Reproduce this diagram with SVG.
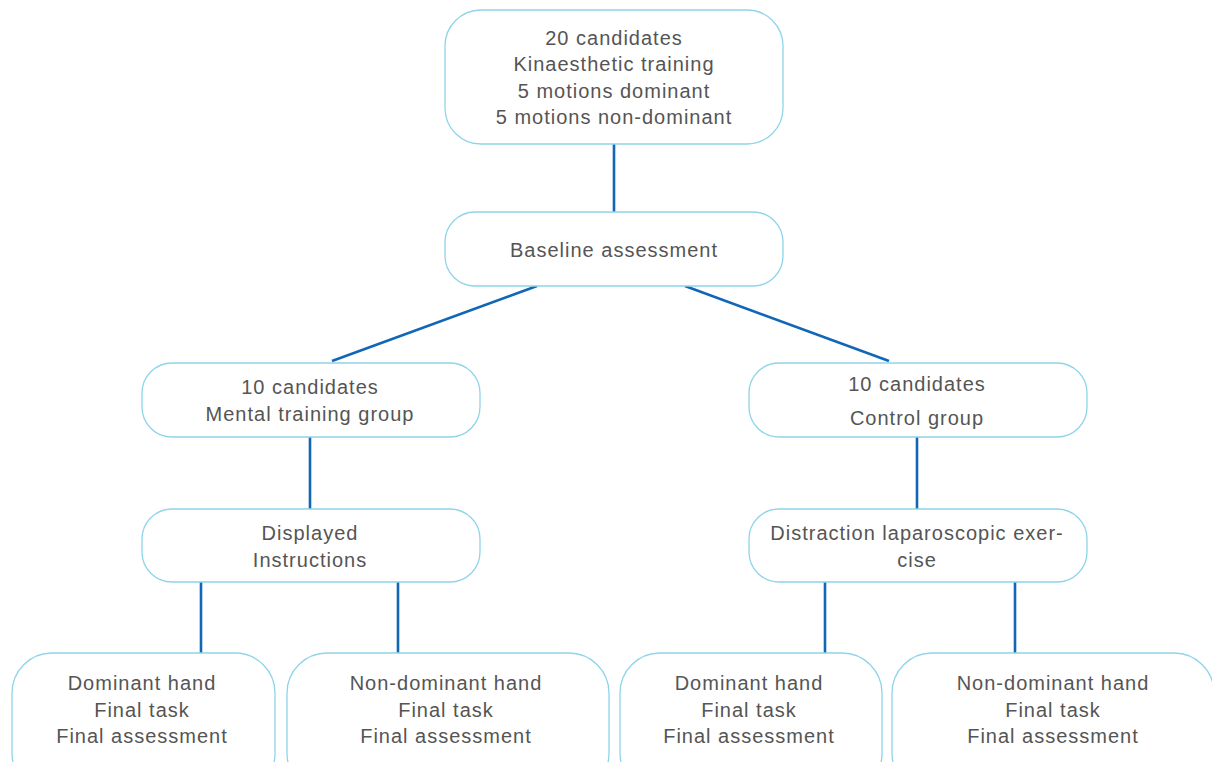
<svg xmlns="http://www.w3.org/2000/svg" width="1212" height="762" viewBox="0 0 1212 762">
<style>
.box{fill:#fff;stroke:#8fd4ea;stroke-width:1.3}
.t{font-family:"Liberation Sans",Arial,sans-serif;font-size:20px;letter-spacing:1px;fill:#555;text-anchor:middle}
.c{stroke:#1166b5;stroke-width:2.6;fill:none}
</style>
<rect width="1212" height="762" fill="#fff"/>
<g id="connectors">
<line class="c" x1="614" y1="144" x2="614" y2="212"/>
<line class="c" x1="537" y1="286" x2="332" y2="361"/>
<line class="c" x1="685" y1="286" x2="889" y2="361"/>
<line class="c" x1="310" y1="437" x2="310" y2="509"/>
<line class="c" x1="917" y1="437" x2="917" y2="509"/>
<line class="c" x1="201" y1="582" x2="201" y2="654"/>
<line class="c" x1="398" y1="582" x2="398" y2="654"/>
<line class="c" x1="825" y1="582" x2="825" y2="654"/>
<line class="c" x1="1015" y1="582" x2="1015" y2="654"/>
</g>
<g id="n1"><rect class="box" x="445" y="10" width="338" height="134" rx="36"/>
<text class="t" x="614" y="45">20 candidates</text>
<text class="t" x="614" y="71">Kinaesthetic training</text>
<text class="t" x="614" y="98">5 motions dominant</text>
<text class="t" x="614" y="124">5 motions non-dominant</text></g>
<g id="n2"><rect class="box" x="445" y="212" width="338" height="74" rx="30"/>
<text class="t" x="614" y="257">Baseline assessment</text></g>
<g id="n3"><rect class="box" x="142" y="363" width="338" height="74" rx="30"/>
<text class="t" x="310" y="394">10 candidates</text>
<text class="t" x="310" y="421">Mental training group</text></g>
<g id="n4"><rect class="box" x="749" y="363" width="338" height="74" rx="30"/>
<text class="t" x="917" y="391">10 candidates</text>
<text class="t" x="917" y="425">Control group</text></g>
<g id="n5"><rect class="box" x="142" y="509" width="338" height="73" rx="30"/>
<text class="t" x="310" y="540">Displayed</text>
<text class="t" x="310" y="567">Instructions</text></g>
<g id="n6"><rect class="box" x="749" y="509" width="338" height="73" rx="30"/>
<text class="t" x="917" y="540">Distraction laparoscopic exer-</text>
<text class="t" x="917" y="567">cise</text></g>
<g id="n7"><rect class="box" x="12" y="653" width="263" height="140" rx="40"/>
<text class="t" x="142" y="690">Dominant hand</text>
<text class="t" x="142" y="717">Final task</text>
<text class="t" x="142" y="743">Final assessment</text></g>
<g id="n8"><rect class="box" x="287" y="653" width="322" height="140" rx="40"/>
<text class="t" x="446" y="690">Non-dominant hand</text>
<text class="t" x="446" y="717">Final task</text>
<text class="t" x="446" y="743">Final assessment</text></g>
<g id="n9"><rect class="box" x="620" y="653" width="262" height="140" rx="40"/>
<text class="t" x="749" y="690">Dominant hand</text>
<text class="t" x="749" y="717">Final task</text>
<text class="t" x="749" y="743">Final assessment</text></g>
<g id="n10"><rect class="box" x="892" y="653" width="322" height="140" rx="40"/>
<text class="t" x="1053" y="690">Non-dominant hand</text>
<text class="t" x="1053" y="717">Final task</text>
<text class="t" x="1053" y="743">Final assessment</text></g>
</svg>
